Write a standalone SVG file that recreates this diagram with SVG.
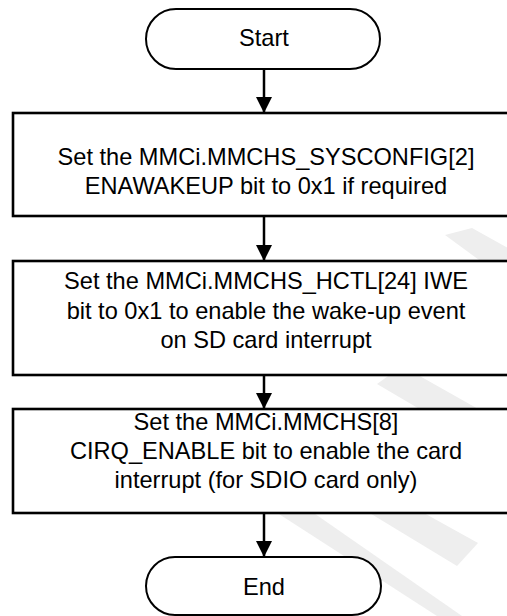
<svg xmlns="http://www.w3.org/2000/svg" width="507" height="616" viewBox="0 0 507 616">
<style>
.wm{fill:#eeeeee;stroke:none}
.box{fill:#ffffff;stroke:#000000;stroke-width:2.6}
.term{fill:#ffffff;stroke:#000000;stroke-width:2}
.t{font-family:"Liberation Sans",Arial,sans-serif;font-size:23.6px;fill:#000000;text-anchor:middle}
.conn{stroke:#000000;stroke-width:2.5;fill:none}
</style>
<defs>
<marker id="ah" markerUnits="userSpaceOnUse" markerWidth="16" markerHeight="16" refX="16" refY="8" orient="auto">
<path d="M0,0 L16,8 L0,16 Z" fill="#000000"/>
</marker>
</defs>
<rect width="507" height="616" fill="#ffffff"/>
<g id="watermark">
<polygon class="wm" points="445,235 472,228 540,266 520,290"/>
<polygon class="wm" points="377,384 402,366 560,455 540,480"/>
<polygon class="wm" points="340,495 368,482 478,543 457,566"/>
<polygon class="wm" points="265,505 295,500 462,616 437,616"/>
</g>
<g id="connectors">
<line class="conn" x1="264" y1="69" x2="264" y2="113" marker-end="url(#ah)"/>
<line class="conn" x1="264" y1="216" x2="264" y2="261" marker-end="url(#ah)"/>
<line class="conn" x1="264" y1="375" x2="264" y2="409" marker-end="url(#ah)"/>
<line class="conn" x1="264" y1="513" x2="264" y2="557" marker-end="url(#ah)"/>
</g>
<g id="start">
<rect class="term" x="146" y="9" width="234" height="60" rx="30" ry="30"/>
<text class="t" x="264" y="46">Start</text>
</g>
<g id="step1">
<rect class="box" x="13" y="113" width="502" height="103"/>
<text class="t" x="266" y="165">Set the MMCi.MMCHS_SYSCONFIG[2]</text>
<text class="t" x="266" y="194">ENAWAKEUP bit to 0x1 if required</text>
</g>
<g id="step2">
<rect class="box" x="13" y="261" width="502" height="114"/>
<text class="t" x="266" y="289">Set the MMCi.MMCHS_HCTL[24] IWE</text>
<text class="t" x="266" y="319">bit to 0x1 to enable the wake-up event</text>
<text class="t" x="266" y="348">on SD card interrupt</text>
</g>
<g id="step3">
<rect class="box" x="13" y="409" width="502" height="104"/>
<text class="t" x="266" y="430">Set the MMCi.MMCHS[8]</text>
<text class="t" x="266" y="459">CIRQ_ENABLE bit to enable the card</text>
<text class="t" x="266" y="488">interrupt (for SDIO card only)</text>
</g>
<g id="end">
<rect class="term" x="146" y="557" width="235" height="58" rx="29" ry="29"/>
<text class="t" x="264" y="595">End</text>
</g>
</svg>
